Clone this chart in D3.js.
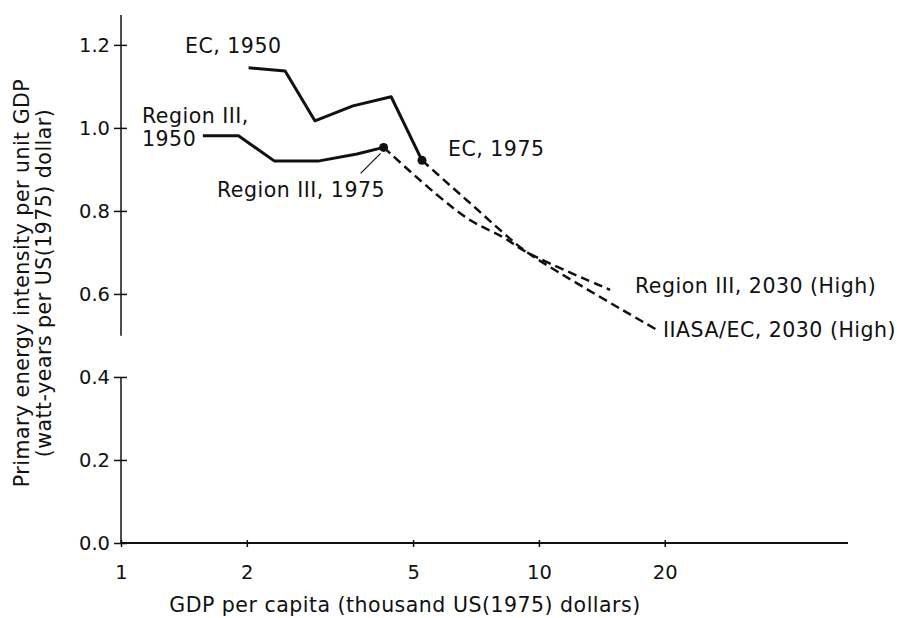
<!DOCTYPE html>
<html>
<head>
<meta charset="utf-8">
<script src="https://cdn.jsdelivr.net/npm/d3@7"></script>
<style>
  html, body { margin: 0; padding: 0; background: #fff; }
  svg { display: block; }
  text { font-family: "DejaVu Sans", sans-serif; fill: #111; }
</style>
</head>
<body>
<svg id="chart" width="913" height="618"></svg>
<script>
// ---- data ----
const xTickValues = [1, 2, 5, 10, 20];
const yTickValues = [0.0, 0.2, 0.4, 0.6, 0.8, 1.0, 1.2];

// EC, historical 1950-1975 (solid)
const ecHistX = [2.02, 2.47, 2.91, 3.59, 4.43, 5.25];
const ecHistY = [1.145, 1.137, 1.017, 1.053, 1.075, 0.922];
// Region III, historical 1950-1975 (solid)
const r3HistX = [1.57, 1.91, 2.33, 2.96, 3.67, 4.25];
const r3HistY = [0.981, 0.981, 0.920, 0.920, 0.937, 0.953];
// Region III projection to 2030 (High) (dashed)
const r3ProjX = [4.25, 5.70, 6.84, 8.20, 9.41, 14.8];
const r3ProjY = [0.953, 0.839, 0.778, 0.737, 0.699, 0.610];
// IIASA/EC projection to 2030 (High) (dashed)
const ecProjX = [5.25, 6.12, 7.11, 8.20, 9.41, 19.2];
const ecProjY = [0.922, 0.862, 0.804, 0.748, 0.699, 0.513];

// 1975 points
const dotX = [4.25, 5.25];
const dotY = [0.953, 0.922];

// ---- layout ----
const svg = d3.select("#chart");
const x = d3.scaleLog().domain([1, 54.9]).range([121, 848]);
const y = d3.scaleLinear().domain([0, 1.272]).range([543, 15]);
const FS = "20.5px", LS = "0.5px";

const zip = (xs, ys) => xs.map((d, i) => [d, ys[i]]);
const line = d3.line().x(d => x(d[0])).y(d => y(d[1]));
const curve = d3.line().x(d => x(d[0])).y(d => y(d[1])).curve(d3.curveCatmullRom.alpha(0.5));

// ---- y axis (broken between 0.4 and 0.5) ----
const yAxis = d3.axisLeft(y).tickValues(yTickValues).tickFormat(d3.format(".1f"))
  .tickSize(7).tickPadding(4);
const gy = svg.append("g").attr("transform", "translate(121,0)").call(yAxis);
gy.select(".domain").remove();
gy.selectAll(".tick line").attr("x1", 6).attr("x2", -7).attr("stroke", "#111").attr("stroke-width", 1.5);
gy.selectAll(".tick text").style("font-size", "19.5px").attr("fill", "#111");
[[0, 0.4], [0.499, 1.272]].forEach(seg => {
  svg.append("line").attr("x1", 121).attr("x2", 121)
    .attr("y1", y(seg[0])).attr("y2", y(seg[1]))
    .attr("stroke", "#111").attr("stroke-width", 1.5);
});

// ---- x axis ----
const xAxis = d3.axisBottom(x).tickValues(xTickValues).tickFormat(d3.format("d"))
  .tickSize(4).tickPadding(18);
const gx = svg.append("g").attr("transform", "translate(0,543)").call(xAxis);
gx.select(".domain").attr("stroke", "#111").attr("stroke-width", 2.2)
  .attr("d", `M${x(1)},0H${x(54.9)}`);
gx.selectAll(".tick line").attr("y1", -3).attr("y2", 4).attr("stroke", "#111").attr("stroke-width", 1.5);
gx.selectAll(".tick text").style("font-size", "19.5px").attr("fill", "#111");

// ---- axis titles ----
svg.append("text").attr("x", 405).attr("y", 612).attr("text-anchor", "middle")
  .style("font-size", FS).style("letter-spacing", LS)
  .text("GDP per capita (thousand US(1975) dollars)");
const yt = svg.append("text").attr("transform", "translate(29,283) rotate(-90)")
  .attr("text-anchor", "middle").style("font-size", FS).style("letter-spacing", LS);
yt.append("tspan").attr("x", 0).attr("y", 0).text("Primary energy intensity per unit GDP");
yt.append("tspan").attr("x", 0).attr("y", 22).text("(watt-years per US(1975) dollar)");

// ---- lines ----
svg.append("path").datum(zip(ecHistX, ecHistY)).attr("d", line)
  .attr("fill", "none").attr("stroke", "#111").attr("stroke-width", 3).attr("stroke-linejoin", "round");
svg.append("path").datum(zip(r3HistX, r3HistY)).attr("d", line)
  .attr("fill", "none").attr("stroke", "#111").attr("stroke-width", 3).attr("stroke-linejoin", "round");
svg.append("path").datum(zip(r3ProjX, r3ProjY)).attr("d", curve)
  .attr("fill", "none").attr("stroke", "#111").attr("stroke-width", 2.5).attr("stroke-dasharray", "9,5");
svg.append("path").datum(zip(ecProjX, ecProjY)).attr("d", curve)
  .attr("fill", "none").attr("stroke", "#111").attr("stroke-width", 2.5).attr("stroke-dasharray", "9,5");

// dots
svg.selectAll("circle.dot").data(zip(dotX, dotY)).join("circle").attr("class", "dot")
  .attr("cx", d => x(d[0])).attr("cy", d => y(d[1])).attr("r", 4.5).attr("fill", "#111");

// pointer for Region III, 1975
svg.append("line")
  .attr("x1", x(dotX[0]) - 23).attr("y1", y(dotY[0]) + 26)
  .attr("x2", x(dotX[0]) - 3).attr("y2", y(dotY[0]) + 6)
  .attr("stroke", "#111").attr("stroke-width", 1.2);

// ---- annotations ----
const ann = [
  {t: "EC, 1950", x: 185, y: 53},
  {t: "Region III,", x: 142, y: 123},
  {t: "1950", x: 142, y: 146},
  {t: "Region III, 1975", x: 217, y: 197},
  {t: "EC, 1975", x: 448, y: 156},
  {t: "Region III, 2030 (High)", x: 635, y: 293},
  {t: "IIASA/EC, 2030 (High)", x: 663, y: 337}
];
svg.selectAll("text.ann").data(ann).join("text").attr("class", "ann")
  .attr("x", d => d.x).attr("y", d => d.y)
  .style("font-size", FS).style("letter-spacing", LS).text(d => d.t);
</script>
</body>
</html>
